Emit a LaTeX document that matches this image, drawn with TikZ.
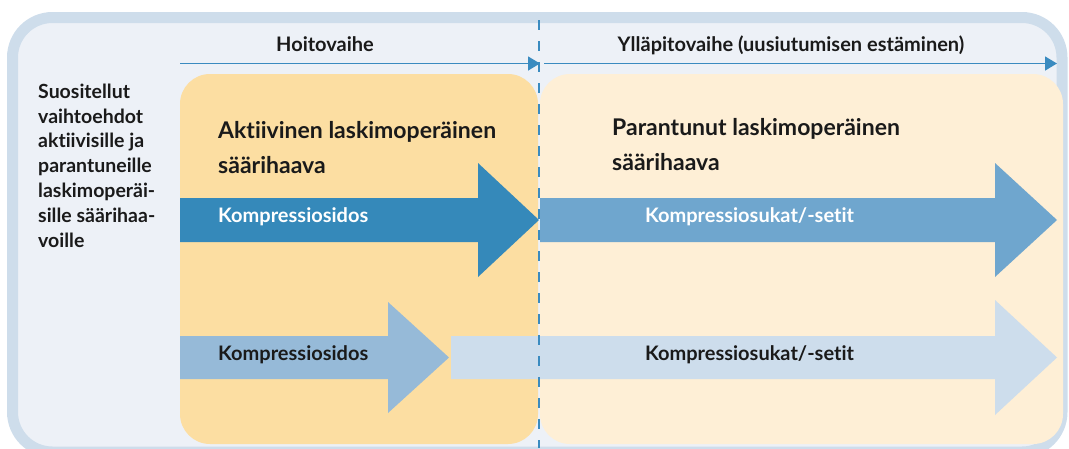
\documentclass[tikz,border=0pt]{standalone}
\usepackage{fontspec}
\setmainfont{Lato}[Ligatures=CommonOff]
\usetikzlibrary{arrows.meta}
\definecolor{frameB}{HTML}{CEDDEB}
\definecolor{frameF}{HTML}{EDF1F7}
\definecolor{boxA}{HTML}{FCDEA2}
\definecolor{boxB}{HTML}{FEEFD6}
\definecolor{arrA}{HTML}{3589BA}
\definecolor{arrB}{HTML}{6FA6CE}
\definecolor{arrC}{HTML}{96BAD8}
\definecolor{arrD}{HTML}{CDDDEC}
\definecolor{lineC}{HTML}{3A8BC0}
\definecolor{txt}{HTML}{1A1A1A}
\tikzset{
  phase/.style={draw=lineC, line width=1.5pt, -{Triangle[length=12pt,width=14pt]}},
  phaselabel/.style={font=\bfseries\fontsize{20}{24}\selectfont, text=txt, anchor=base, inner sep=0pt},
  sidelabel/.style={font=\bfseries\fontsize{19.5}{24.8}\selectfont, text=txt, anchor=base west, align=left, inner sep=0pt},
  title/.style={font=\bfseries\fontsize{23}{35}\selectfont, text=txt, anchor=base west, align=left, inner sep=0pt},
  arrlabel/.style={font=\bfseries\fontsize{20}{24}\selectfont, anchor=base west, inner sep=0pt},
  arrlabelc/.style={font=\bfseries\fontsize{20}{24}\selectfont, anchor=base, inner sep=0pt},
}
\begin{document}
\begin{tikzpicture}[x=1pt,y=-1pt]
\useasboundingbox (0,0) rectangle (1069,448);
% frame
\draw[draw=frameB, fill=frameF, line width=11pt, rounded corners=40pt] (12.5,17.5) rectangle (1062,452);
% column boxes
\fill[boxA, rounded corners=30pt] (180,74) rectangle (538,444);
\fill[boxB, rounded corners=30pt] (540,74) rectangle (1063,444);
% phase arrows
\coordinate (p1s) at (180,63.5);
\coordinate (p1e) at (540,63.5);
\coordinate (p2s) at (544,63.5);
\coordinate (p2e) at (1057,63.5);
\draw[phase] (p1s) -- (p1e);
\draw[phase] (p2s) -- (p2e);
\node[phaselabel] (hoito) at (325,51) {Hoitovaihe};
\node[phaselabel] (yllap) at (791,51) {Ylläpitovaihe (uusiutumisen estäminen)};
% side text (anchor is the baseline of the last line)
\node[sidelabel] (side) at (38,247) {Suositellut\\vaihtoehdot\\aktiivisille ja\\parantuneille\\laskimoperäi-\\sille säärihaa-\\voille};
% titles
\node[title] (tA) at (218,173) {Aktiivinen laskimoperäinen\\säärihaava};
\node[title] (tB) at (612,170) {Parantunut laskimoperäinen\\säärihaava};
% big arrows
\fill[arrA] (180,198) -- (478,198) -- (478,163) -- (539,220) -- (478,277) -- (478,242) -- (180,242) -- cycle;
\fill[arrB] (540,198) -- (995,198) -- (995,163) -- (1057,220) -- (995,277) -- (995,242) -- (540,242) -- cycle;
\fill[arrC] (180,336) -- (388,336) -- (388,302) -- (449,357.5) -- (388,413) -- (388,379) -- (180,379) -- cycle;
\fill[arrD] (451,336) -- (995,336) -- (995,300) -- (1057,357.5) -- (995,415) -- (995,379) -- (451,379) -- cycle;
\node[arrlabel, text=white] (l1) at (218,222) {Kompressiosidos};
\node[arrlabelc, text=white] (l2) at (749.5,222) {Kompressiosukat/-setit};
\node[arrlabel, text=txt] (l3) at (218,360) {Kompressiosidos};
\node[arrlabelc, text=txt] (l4) at (749.5,360) {Kompressiosukat/-setit};
% divider
\coordinate (dtop) at (539,20);
\coordinate (dbot) at (539,448);
\draw[lineC, line width=2.2pt, dash pattern=on 10pt off 11pt] (dtop) -- (dbot);
\end{tikzpicture}
\end{document}
